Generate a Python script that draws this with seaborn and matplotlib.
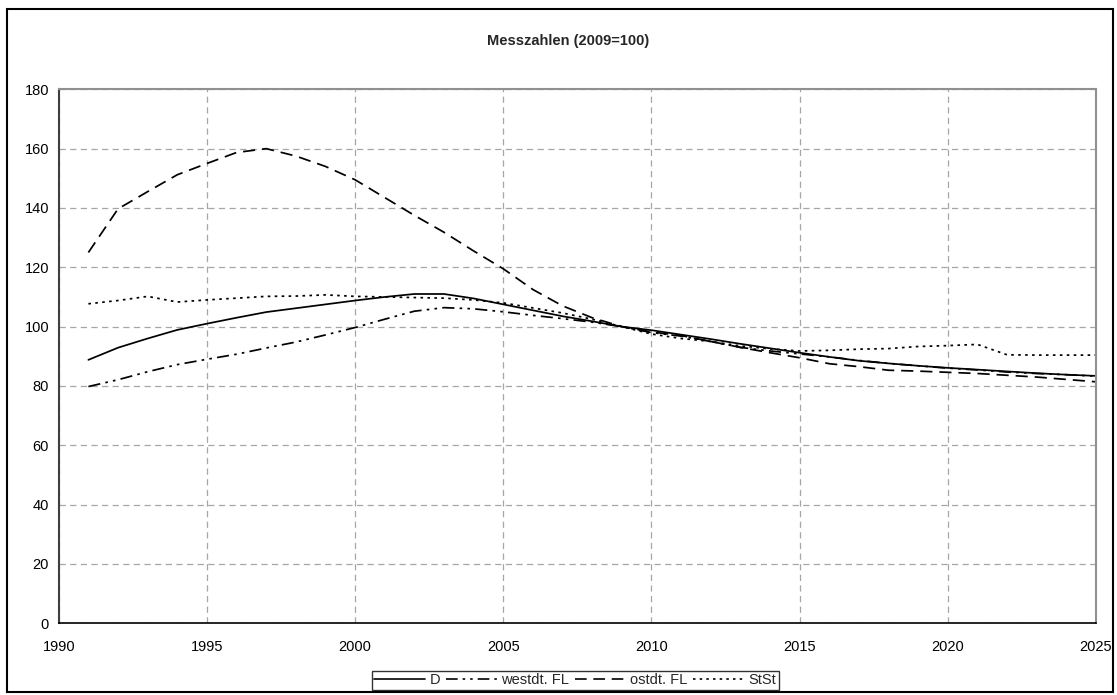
import matplotlib
matplotlib.use("Agg")
import matplotlib.pyplot as plt
from matplotlib.patches import Rectangle
from matplotlib.lines import Line2D
import seaborn as sns
import pandas as pd

years = list(range(1991, 2026))

d_vals = [88.8, 92.9, 96.0, 98.9, 101.0, 103.0, 104.9, 106.2, 107.5, 108.8,
          110.0, 111.0, 111.0, 109.5, 107.5, 105.5, 103.5, 101.8, 100.0, 98.8,
          97.3, 95.8, 94.2, 92.7, 91.2, 89.8, 88.5, 87.6, 86.8, 86.1,
          85.5, 84.9, 84.3, 83.8, 83.4]
west_vals = [79.8, 82.1, 84.8, 87.2, 89.0, 90.7, 92.8, 94.8, 97.2, 99.7,
             102.5, 105.2, 106.4, 106.0, 105.0, 103.8, 102.7, 101.5, 100.0, 98.0,
             96.8, 95.0, 93.0, 91.8, 90.8, 89.8, 88.6, 87.6, 86.8, 86.0,
             85.4, 84.7, 84.2, 83.8, 83.3]
ost_vals = [125.0, 139.7, 145.5, 151.2, 155.0, 158.7, 160.0, 157.5, 154.0, 149.5,
            143.5, 137.5, 131.8, 125.5, 119.5, 112.5, 107.0, 103.0, 100.0, 98.2,
            97.0, 95.0, 93.0, 91.2, 89.5, 87.5, 86.5, 85.3, 85.0, 84.6,
            84.2, 83.6, 83.0, 82.2, 81.4]
stst_vals = [107.7, 108.8, 110.2, 108.3, 109.0, 109.6, 110.2, 110.3, 110.7, 110.2,
             110.0, 109.8, 109.6, 109.0, 108.0, 106.3, 104.6, 102.5, 100.0, 97.5,
             96.0, 95.0, 93.5, 92.5, 91.8, 92.0, 92.4, 92.6, 93.3, 93.6,
             94.0, 90.5, 90.4, 90.4, 90.4]

series_names = ["D", "westdt. FL", "ostdt. FL", "StSt"]
title = "Messzahlen (2009=100)"
x_ticks = list(range(1990, 2030, 5))
y_ticks = list(range(0, 200, 20))

df = pd.DataFrame({
    "Jahr": years * 4,
    "Wert": d_vals + west_vals + ost_vals + stst_vals,
    "Reihe": sum([[n] * len(years) for n in series_names], []),
})

sns.set_style("white")
plt.rcParams["font.family"] = ["Liberation Sans", "DejaVu Sans"]

fig = plt.figure(figsize=(11.17, 6.95), dpi=100)
ax = fig.add_axes([0.0526, 0.1032, 0.9286, 0.7683])

dashes = {
    "D": "",
    "westdt. FL": (7, 3, 1.5, 3, 1.5, 3),
    "ostdt. FL": (7, 4),
    "StSt": (1.5, 2.5),
}
sns.lineplot(data=df, x="Jahr", y="Wert", hue="Reihe", style="Reihe",
             palette=["black"] * 4, dashes=dashes, linewidth=1.25,
             ax=ax, legend=False, hue_order=series_names, style_order=series_names)

ax.set_xlim(1990, 2025)
ax.set_ylim(0, 180)
ax.set_xticks(x_ticks)
ax.set_yticks(y_ticks)
ax.set_xlabel("")
ax.set_ylabel("")
ax.grid(True, color="#a6a6a6", linestyle=(0, (5, 3.5)), linewidth=0.9)
ax.set_axisbelow(True)
ax.tick_params(axis="both", labelsize=10.5, length=4, width=1, direction="out",
               colors="black", pad=3)
ax.tick_params(axis="x", pad=8)
for side in ["top", "right"]:
    ax.spines[side].set_color("#909090")
    ax.spines[side].set_linewidth(1.5)
ax.spines["left"].set_color("#404040")
ax.spines["left"].set_linewidth(1.5)
ax.spines["bottom"].set_color("black")
ax.spines["bottom"].set_linewidth(1.2)

fig.text(0.509, 0.941, title, ha="center", va="center", fontsize=10.5, fontweight="bold")

handles = [Line2D([], [], color="black", lw=1.2,
                  linestyle=(0, dashes[n]) if dashes[n] else "-") for n in series_names]
leg = fig.legend(handles, series_names, loc="center", bbox_to_anchor=(0.515, 0.021),
                 ncol=4, frameon=True, fontsize=10.5, handlelength=3.5,
                 handletextpad=0.3, columnspacing=0.4, borderpad=0.15,
                 fancybox=False, borderaxespad=0)
leg.get_frame().set_edgecolor("black")
leg.get_frame().set_linewidth(1.0)

fig.add_artist(Rectangle((0.0063, 0.0045), 0.9901, 0.9821, transform=fig.transFigure,
                         fill=False, edgecolor="black", linewidth=1.5))

fig.savefig("out.png", dpi=100)
